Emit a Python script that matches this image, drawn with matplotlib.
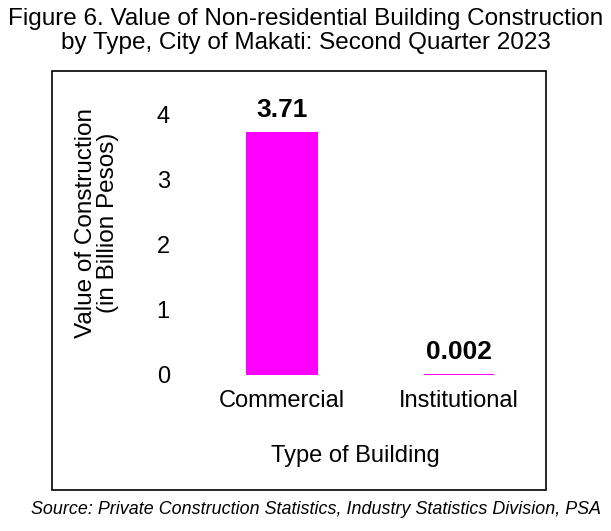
import matplotlib
matplotlib.use("Agg")
import matplotlib.pyplot as plt
from matplotlib.patches import Rectangle

plt.rcParams['font.family'] = ['Liberation Sans', 'DejaVu Sans']

categories = ['Commercial', 'Institutional']
values = [3.71, 0.002]
value_labels = ['3.71', '0.002']
yticks = [0, 1, 2, 3, 4]

W, H = 611, 531
fig = plt.figure(figsize=(W / 100, H / 100), dpi=100)
ax = fig.add_axes([0.303, 0.294, 0.607, 0.527])

x = range(len(categories))
ax.bar(x, values, width=0.395, color='#ff00ff', edgecolor='#ff00ff', linewidth=1.5)

# value labels above bars
for xi, v, lab in zip(x, values, value_labels):
    ax.annotate(lab, (xi, v), xytext=(0, 8), textcoords='offset points',
                ha='center', va='bottom', fontsize=19, fontweight='bold')

ax.set_xlim(-0.55, 1.55)
ax.set_ylim(0, 4.3)
ax.set_yticks(yticks)
ax.set_xticks(list(x))
ax.set_xticklabels(categories)
ax.tick_params(axis='both', length=0, labelsize=17)
ax.tick_params(axis='y', pad=11)
ax.tick_params(axis='x', pad=11)
for s in ax.spines.values():
    s.set_visible(False)

# frame around the chart area
fig.patches.append(Rectangle((52 / W, 1 - 490 / H), (546 - 52) / W, (490 - 71) / H,
                             transform=fig.transFigure, fill=False,
                             edgecolor='black', linewidth=1.2))

fig.text(0.5, 0.985, 'Figure 6. Value of Non-residential Building Construction\nby Type, City of Makati: Second Quarter 2023',
         ha='center', va='top', fontsize=17.5, linespacing=1.1)
fig.text(97 / W, 1 - 223 / H, 'Value of Construction\n(in Billion Pesos)',
         rotation=90, ha='center', va='center', fontsize=17.5, linespacing=1.0)
fig.text(355 / W, 1 - 456 / H, 'Type of Building', ha='center', va='center', fontsize=17)
fig.text(316 / W, 1 - 510 / H, 'Source: Private Construction Statistics, Industry Statistics Division, PSA',
         ha='center', va='center', fontsize=12.9, style='italic')

fig.savefig('out.png', dpi=100)
